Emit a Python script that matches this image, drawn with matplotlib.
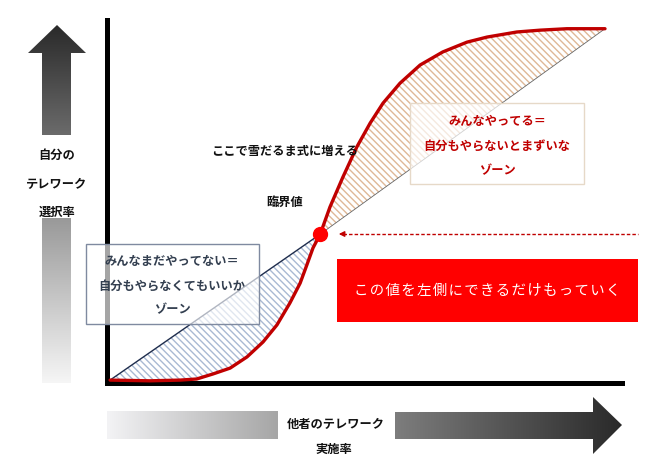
import numpy as np
import matplotlib
matplotlib.use("Agg")
import matplotlib.pyplot as plt
from matplotlib.colors import LinearSegmentedColormap
from matplotlib.patches import Polygon, Rectangle

plt.rcParams['font.family'] = ['Noto Sans CJK JP', 'DejaVu Sans']
plt.rcParams['hatch.linewidth'] = 1.0

# S字カーブ（他者の実施率 → 自分の選択率）
curve_x = [0.6, 8.3, 14.2, 17.4, 20.6, 23.9, 27.2, 30.3, 33.0, 35.5, 37.5, 38.8, 40.0, 41.4,
           43.3, 45.8, 48.5, 51.1, 53.6, 56.9, 60.8, 65.2, 69.9, 73.8, 79.6, 84.1, 89.3, 96.7]
curve_y = [0.8, 0.6, 0.8, 1.1, 2.5, 4.1, 7.2, 11.3, 16.0, 22.0, 27.5, 32.5, 37.2, 41.0,
           48.5, 56.7, 65.0, 71.6, 77.1, 82.6, 87.6, 91.2, 93.9, 95.3, 96.7, 97.2, 97.6, 97.6]
idx_critical = 13  # 臨界値の点

# 対角線（みんなと同じ割合）
line_x = [0.6, 41.4, 96.7]
line_y = [0.8, 41.0, 97.6]

W, H = 670, 463
fig = plt.figure(figsize=(W / 100, H / 100), dpi=100)

# メインのグラフ
ax = fig.add_axes([107 / W, (H - 383) / H, 515 / W, 363 / H])
ax.set_xlim(0, 100)
ax.set_ylim(0, 100)
ax.patch.set_alpha(0)
for s in ['top', 'right']:
    ax.spines[s].set_visible(False)
for s in ['left', 'bottom']:
    ax.spines[s].set_linewidth(3.6)
    ax.spines[s].set_capstyle('projecting')
ax.set_xticks([])
ax.set_yticks([])

# 斜線の領域
lower_x = curve_x[:idx_critical + 1]
lower_y = curve_y[:idx_critical + 1]
ax.fill(lower_x, lower_y, facecolor='none', edgecolor='#a9b9d3', hatch='\\' * 5, linewidth=0, zorder=2)
upper_x = curve_x[idx_critical:]
upper_y = curve_y[idx_critical:]
ax.fill(upper_x, upper_y, facecolor='none', edgecolor='#dfb897', hatch='\\' * 5, linewidth=0, zorder=2)

ax.plot(line_x[:2], line_y[:2], color='#1f2d4d', lw=1.0, zorder=3)
ax.plot(line_x[1:], line_y[1:], color='#666666', lw=0.6, zorder=3)
ax.plot(curve_x, curve_y, color='#c00000', lw=2.4, solid_capstyle='round',
        solid_joinstyle='round', clip_on=False, zorder=4)
ax.plot(curve_x[idx_critical], curve_y[idx_critical], 'o', color='#ff0000', markersize=10, zorder=5, clip_on=False)

# 装飾用（ピクセル座標）
ov = fig.add_axes([0, 0, 1, 1], zorder=5)
ov.set_xlim(0, W)
ov.set_ylim(H, 0)
ov.axis('off')
ov.patch.set_alpha(0)


def gradient(pts, box, c0, c1, vertical):
    x0, y0, x1, y1 = box
    cmap = LinearSegmentedColormap.from_list('g', [c0, c1])
    g = np.linspace(0, 1, 256)
    arr = g.reshape(-1, 1) if vertical else g.reshape(1, -1)
    im = ov.imshow(arr, cmap=cmap, extent=(x0, x1, y1, y0), origin='upper',
                   aspect='auto', interpolation='bilinear', zorder=1)
    clip = Polygon(pts, closed=True, facecolor='none', edgecolor='none')
    ov.add_patch(clip)
    im.set_clip_path(clip)


# 左の上向き矢印
up_arrow = [(42, 135), (42, 53), (28, 53), (57, 25), (86, 53), (71, 53), (71, 135)]
gradient(up_arrow, (28, 25, 86, 135), '#2a2a2a', '#6b6b6b', True)
# 左の縦バー
gradient([(42, 218), (71, 218), (71, 383), (42, 383)], (42, 218, 71, 383), '#999999', '#f6f6f6', True)
# 下の横バー
gradient([(107, 411), (278, 411), (278, 439), (107, 439)], (107, 411, 278, 439), '#f3f3f5', '#a6a6a6', False)
# 下の右向き矢印
right_arrow = [(395, 412), (593, 412), (593, 397), (622, 425), (593, 454), (593, 439), (395, 439)]
gradient(right_arrow, (395, 397, 622, 454), '#7d7d7d', '#2a2a2a', False)

bold = dict(fontweight='bold', ha='center', va='center')
for txt, y in [('自分の', 155), ('テレワーク', 185), ('選択率', 212)]:
    ov.text(57, y, txt, fontsize=8.8, color='#111111', **bold)
ov.text(336, 424, '他者のテレワーク', fontsize=8.8, color='#111111', **bold)
ov.text(334, 449, '実施率', fontsize=8.8, color='#111111', **bold)
ov.text(285, 152, 'ここで雪だるま式に増える', fontsize=8.8, color='#111111', **bold)
ov.text(285, 202, '臨界値', fontsize=8.8, color='#111111', **bold)

# 右上のボックス
ov.add_patch(Rectangle((410, 103), 174, 81, facecolor='white', alpha=0.7, edgecolor='none', zorder=2))
ov.add_patch(Rectangle((410, 103), 174, 81, facecolor='none', edgecolor='#e6d9c8', lw=1, zorder=2))
for txt, y in [('みんなやってる＝', 122), ('自分もやらないとまずいな', 147), ('ゾーン', 171)]:
    ov.text(497, y, txt, fontsize=8.8, color='#c00000', zorder=3, **bold)

# 左下のボックス
ov.add_patch(Rectangle((86, 244), 173, 80, facecolor='white', alpha=0.65, edgecolor='none', zorder=2))
ov.add_patch(Rectangle((86, 244), 173, 80, facecolor='none', edgecolor='#7f8aa0', lw=1, zorder=2))
for txt, y in [('みんなまだやってない＝', 262), ('自分もやらなくてもいいか', 286), ('ゾーン', 310)]:
    ov.text(172, y, txt, fontsize=8.8, color='#333f50', zorder=3, **bold)

# 赤いボックス
ov.add_patch(Rectangle((337, 259), 301, 63, facecolor='#ff0000', edgecolor='none', zorder=2))
ov.text(487, 291, '\u200a'.join('この値を左側にできるだけもっていく'), fontsize=10.4, color='white',
        ha='center', va='center', zorder=3)

# 点線の矢印
ov.plot([343, 638], [234, 234], color='#c00000', lw=1, linestyle=(0, (2.5, 1.5)), zorder=2)
ov.annotate('', xy=(336, 234), xytext=(346, 234),
            arrowprops=dict(arrowstyle='-|>', color='#c00000', lw=1, mutation_scale=8), zorder=2)

fig.savefig('out.png', dpi=100)
